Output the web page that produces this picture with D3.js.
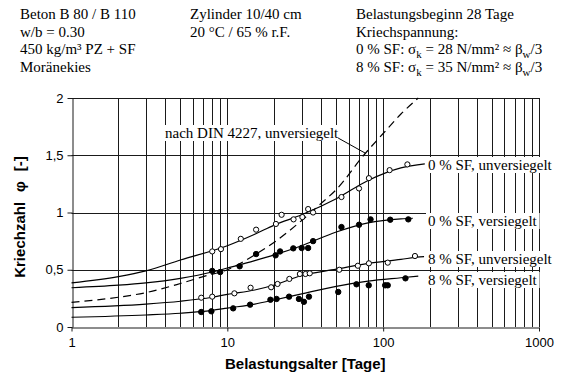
<!DOCTYPE html>
<html>
<head>
<meta charset="utf-8">
<script src="https://cdn.jsdelivr.net/npm/d3@7/dist/d3.min.js"></script>
<style>
  body { margin: 0; background: #fff; }
  .serif { font-family: "Liberation Serif", "Times New Roman", serif; fill: #000; }
  .sans { font-family: "Liberation Sans", Arial, sans-serif; fill: #000; }
</style>
</head>
<body>
<svg id="chart" width="562" height="376"></svg>
<script>
// Creep coefficient φ against age at loading (days, logarithmic)

const xTickLabels = [1, 10, 100, 1000];
const yTickValues = [0, 0.5, 1, 1.5, 2];

// Smoothed creep curves, [days, φ]
const curve0Unsealed = [[1,0.385],[2,0.44],[3,0.49],[5,0.585],[10,0.71],[15,0.81],[20,0.89],[30,0.98],[50,1.12],[80,1.28],[130,1.39],[185,1.425]];
const curve0Sealed   = [[1,0.343],[2,0.365],[3,0.385],[5,0.425],[8,0.48],[10,0.515],[15,0.58],[20,0.63],[30,0.71],[50,0.83],[80,0.91],[130,0.945],[155,0.95]];
const curve8Unsealed = [[1,0.17],[3,0.2],[5,0.225],[8,0.26],[10,0.285],[15,0.323],[20,0.367],[30,0.45],[50,0.505],[80,0.556],[130,0.59],[165,0.61],[183,0.615]];
const curve8Sealed   = [[1,0.085],[3,0.105],[5,0.12],[8,0.145],[10,0.165],[15,0.2],[20,0.236],[30,0.29],[50,0.355],[80,0.40],[130,0.43],[168,0.445]];
const curveDin       = [[1,0.215],[2,0.26],[3,0.3],[5,0.38],[7,0.44],[10,0.5],[15,0.63],[20,0.74],[30,0.93],[40,1.08],[50,1.2],[75,1.5],[100,1.69],[130,1.86],[168,2.0]];

// Measured values, [days, φ]
const pts0Unsealed = [[8,0.66],[9.1,0.68],[12.2,0.77],[15.3,0.85],[20.5,0.90],[22.3,0.98],[26.6,0.94],[30.3,0.96],[33,1.03],[35.5,1.0],[54,1.135],[70,1.21],[81,1.3],[110,1.37],[143,1.42]];
const pts0Sealed   = [[8,0.49],[9,0.48],[12,0.53],[15.3,0.637],[20.4,0.626],[21.8,0.66],[26.5,0.687],[30,0.69],[33,0.69],[35.5,0.75],[54,0.873],[70,0.893],[83,0.94],[111,0.937],[145,0.94]];
const pts8Unsealed = [[6.8,0.256],[8,0.265],[11.1,0.294],[14.1,0.343],[19.1,0.347],[21,0.376],[25,0.42],[29.2,0.463],[31.7,0.463],[33.8,0.469],[52.3,0.5],[68.8,0.535],[81,0.556],[107,0.562],[160,0.62]];
const pts8Sealed   = [[6.8,0.131],[7.9,0.137],[10.9,0.163],[14,0.195],[18.9,0.238],[20.7,0.245],[24.9,0.265],[28.8,0.245],[31,0.22],[33.4,0.265],[51.5,0.306],[67.4,0.373],[80.8,0.364],[103,0.364],[107,0.364],[139,0.425]];

const seriesLabels = ["0 % SF, unversiegelt", "0 % SF, versiegelt", "8 % SF, unversiegelt", "8 % SF, versiegelt"];
const dinLabel = "nach DIN 4227, unversiegelt";

const headerLeft = ["Beton B 80 / B 110", "w/b = 0.30", "450 kg/m³ PZ + SF", "Moränekies"];
const headerMid = ["Zylinder 10/40 cm", "20 °C / 65 % r.F."];
const headerRight = ["Belastungsbeginn 28 Tage", "Kriechspannung:"];
const stressLines = [["0 % SF: ", "28"], ["8 % SF: ", "35"]];

const xTitle = "Belastungsalter [Tage]";
const yTitleParts = ["Kriechzahl", "φ", "[-]"];

const svg = d3.select("#chart");
const x = d3.scaleLog().domain([1, 1000]).range([71.5, 539]);
const y = d3.scaleLinear().domain([0, 2]).range([327, 98]);

// grid
const grid = svg.append("g").attr("stroke", "#1a1a1a").attr("stroke-width", 1);
grid.selectAll("line.v").data(x.ticks().filter(d => d > 1)).join("line")
  .attr("x1", d => Math.round(x(d)) + 0.5).attr("x2", d => Math.round(x(d)) + 0.5)
  .attr("y1", y(0)).attr("y2", y(2));
grid.selectAll("line.h").data(yTickValues.filter(d => d > 0)).join("line")
  .attr("x1", x(1)).attr("x2", x(1000))
  .attr("y1", d => Math.round(y(d)) + 0.5).attr("y2", d => Math.round(y(d)) + 0.5);

// axes
const xAxis = svg.append("g").attr("transform", `translate(0,${Math.round(y(0)) + 0.5})`)
  .call(d3.axisBottom(x).tickValues(xTickLabels).tickFormat(d3.format("d")).tickSize(4).tickSizeOuter(0).tickPadding(6));
const yAxis = svg.append("g").attr("transform", `translate(${Math.round(x(1)) + 0.5},0)`)
  .call(d3.axisLeft(y).tickValues(yTickValues).tickFormat(d => String(d).replace(".", ",")).tickSize(5).tickSizeOuter(0).tickPadding(4));
[xAxis, yAxis].forEach(a => {
  a.selectAll("path,line").attr("stroke", "#1a1a1a").attr("stroke-width", 1);
  a.selectAll("text").attr("class", "sans").attr("font-size", 13).attr("fill", "#000");
});

// series label backgrounds and texts
const labelLayer = svg.append("g");
function boxedLabel(txt, lx, ly) {
  const g = labelLayer.append("g");
  const t = g.append("text").attr("class", "serif").attr("font-size", 15)
    .attr("x", lx).attr("y", ly).text(txt);
  const b = t.node().getBBox();
  g.insert("rect", "text").attr("x", b.x - 2).attr("y", b.y)
    .attr("width", b.width + 4).attr("height", b.height).attr("fill", "#fff");
  return b;
}
const labelX = 428;
const labelY = [170, 226, 264, 285];
seriesLabels.forEach((s, i) => boxedLabel(s, labelX, labelY[i]));
const dinBox = boxedLabel(dinLabel, 165, 138);

// curves
const line = d3.line().x(d => x(d[0])).y(d => y(d[1])).curve(d3.curveMonotoneX);
const curves = svg.append("g").attr("fill", "none").attr("stroke", "#000").attr("stroke-width", 1.2);
[curve0Unsealed, curve0Sealed, curve8Unsealed, curve8Sealed].forEach(c =>
  curves.append("path").attr("d", line(c)));
curves.append("path").attr("d", line(curveDin)).attr("stroke-dasharray", "8,5");

// leader from DIN label to its curve
const leaderDay = 77;
const leaderPhi = d3.scaleLog().domain(curveDin.map(d => d[0])).range(curveDin.map(d => d[1]))(leaderDay);
svg.append("line").attr("stroke", "#000").attr("stroke-width", 1)
  .attr("x1", dinBox.x + dinBox.width - 1).attr("y1", dinBox.y + dinBox.height - 3)
  .attr("x2", x(leaderDay)).attr("y2", y(leaderPhi));

// measurements
const pts = svg.append("g");
function drawPoints(data, filled) {
  pts.append("g").selectAll("circle").data(data).join("circle")
    .attr("cx", d => x(d[0])).attr("cy", d => y(d[1])).attr("r", filled ? 2.7 : 2.6)
    .attr("fill", filled ? "#000" : "#fff").attr("stroke", "#000").attr("stroke-width", 1);
}
drawPoints(pts0Unsealed, false);
drawPoints(pts0Sealed, true);
drawPoints(pts8Unsealed, false);
drawPoints(pts8Sealed, true);

// header notes
const headerBase = [19, 36.5, 54, 71.5];
function headerColumn(lines, hx) {
  lines.forEach((l, i) => svg.append("text").attr("class", "serif").attr("font-size", 15)
    .attr("x", hx).attr("y", headerBase[i]).text(l));
}
headerColumn(headerLeft, 20);
headerColumn(headerMid, 190);
headerColumn(headerRight, 356);
stressLines.forEach((s, i) => {
  const t = svg.append("text").attr("class", "serif").attr("font-size", 15)
    .attr("x", 356).attr("y", headerBase[i + 2]);
  t.append("tspan").text(s[0] + "σ");
  t.append("tspan").attr("font-size", 11).attr("dy", 4).text("k");
  t.append("tspan").attr("dy", -4).text(` = ${s[1]} N/mm² ≈ β`);
  t.append("tspan").attr("font-size", 11).attr("dy", 4).text("w");
  t.append("tspan").attr("dy", -4).text("/3");
});

// axis titles
svg.append("text").attr("class", "sans").attr("font-size", 15).attr("font-weight", "bold")
  .attr("text-anchor", "middle").attr("x", (x(1) + x(1000)) / 2).attr("y", 369).text(xTitle);
const yt = svg.append("text").attr("class", "sans").attr("font-size", 15).attr("font-weight", "bold")
  .attr("text-anchor", "middle").attr("transform", "translate(25,217) rotate(-90)");
yTitleParts.forEach((p, i) => yt.append("tspan").attr("dx", i ? 10 : 0).text(p));
</script>
</body>
</html>
